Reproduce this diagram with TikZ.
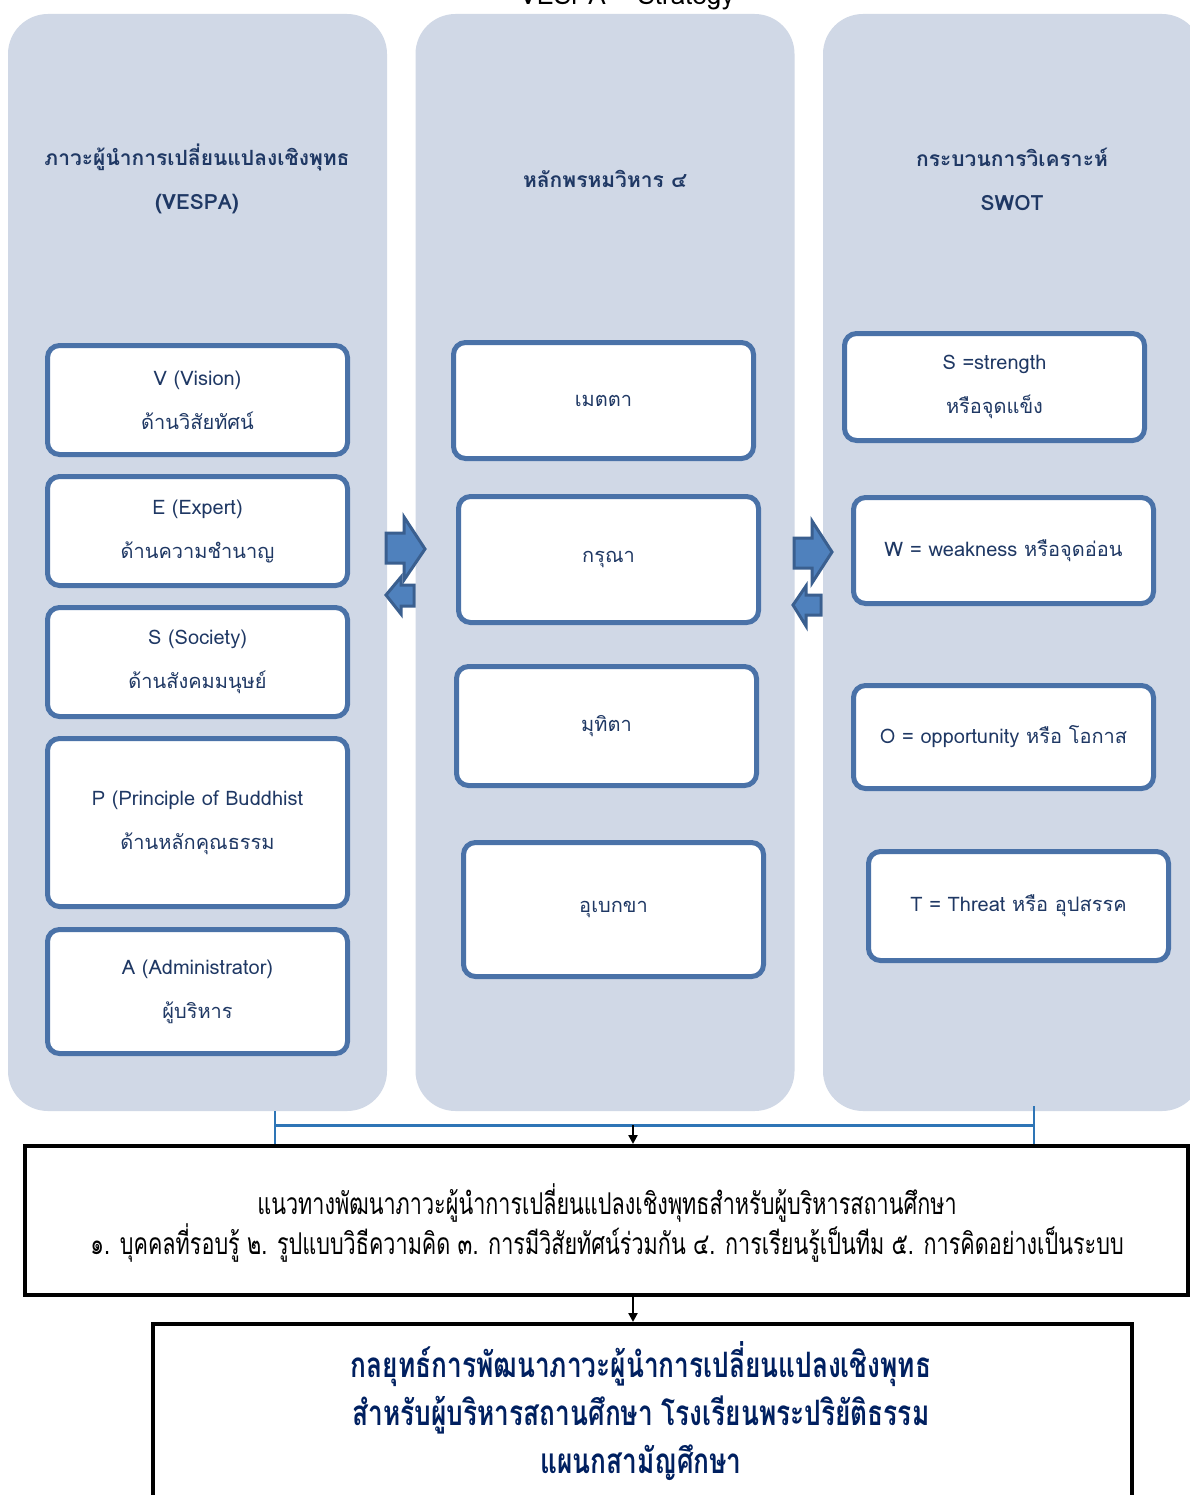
\documentclass[tikz,border=0pt]{standalone}
\usepackage{fontspec}
\setmainfont[Script=Thai]{Loma}
\newfontfamily\condfont[Script=Thai,FakeStretch=0.72]{Loma}
\newfontfamily\condbfont[Script=Thai,FakeStretch=0.75]{Loma}
\usetikzlibrary{arrows.meta}
\definecolor{panelbg}{RGB}{208,216,230}
\definecolor{itemline}{RGB}{74,114,168}
\definecolor{navytext}{RGB}{31,56,100}
\definecolor{arrowfill}{RGB}{79,129,189}
\definecolor{arrowline}{RGB}{58,95,143}
\definecolor{linkblue}{RGB}{46,117,182}
\definecolor{darknavy}{RGB}{0,32,96}
\tikzset{
  panel/.style={fill=panelbg, draw=none, rounded corners=40, minimum width=379, minimum height=1097, inner sep=0},
  head/.style={text=navytext, font=\fontsize{21}{44}\selectfont\bfseries, align=center},
  item/.style={draw=itemline, line width=5, fill=white, rounded corners=12, minimum width=300,
               text=navytext, font=\fontsize{20}{44}\selectfont, align=center, inner sep=0},
  blockarrow/.style={fill=arrowfill, draw=arrowline, line width=3, line join=miter},
  link/.style={draw=linkblue, line width=2},
  flow/.style={draw=black, line width=2.5, -{Triangle[length=9pt,width=9pt]}},
  outbox/.style={draw=black, line width=4, fill=white, inner sep=0}
}
\begin{document}
\begin{tikzpicture}[x=1pt,y=-1pt]
\useasboundingbox (0,0) rectangle (1190,1495);
\fill[white] (0,0) rectangle (1190,1495);

% title (cut off at the top edge, as in the reference)
\node[anchor=base, font=\fontsize{26}{30}\selectfont, text=black] (title) at (627,5) {VESPA – Strategy};

% panels
\node[panel] (lp) at (197.5,562.5) {};
\node[panel] (mp) at (605,562.5) {};
\node[panel] (rp) at (1012.5,562.5) {};

% headers
\node[head] (lh) at (197,179) {ภาวะผู้นำการเปลี่ยนแปลงเชิงพุทธ\\(VESPA)};
\node[head] (mh) at (605,179) {หลักพรหมวิหาร ๔};
\node[head] (rh) at (1012,179) {กระบวนการวิเคราะห์\\SWOT};

% left items
\node[item, minimum height=109] (v) at (197.5,400) {V (Vision)\\ด้านวิสัยทัศน์};
\node[item, minimum height=109] (e) at (197.5,531) {E (Expert)\\ด้านความชำนาญ};
\node[item, minimum height=109] (s) at (197.5,662) {S (Society)\\ด้านสังคมมนุษย์};
\node[item, minimum height=168] (p) at (197.5,822.5) {P (Principle of Buddhist\\ด้านหลักคุณธรรม};
\node[item, minimum height=124] (a) at (197.5,991.5) {A (Administrator)\\ผู้บริหาร};

% middle items
\node[item, minimum height=116] (m1) at (603.5,400.5) {เมตตา};
\node[item, minimum height=126] (m2) at (608.5,559.5) {กรุณา};
\node[item, minimum height=119] (m3) at (606.5,726) {มุทิตา};
\node[item, minimum height=134] (m4) at (613.5,909.5) {อุเบกขา};

% right items
\node[item, minimum height=107] (r1) at (994.5,387) {S =strength\\หรือจุดแข็ง};
\node[item, minimum height=106] (r2) at (1003.5,550.5) {W = weakness หรือจุดอ่อน};
\node[item, minimum height=103] (r3) at (1003.5,737) {O = opportunity หรือ โอกาส};
\node[item, minimum height=109] (r4) at (1018.5,906) {T = Threat หรือ อุปสรรค};

% block arrows between panels
\draw[blockarrow] (386,533) -- (404,533) -- (404,517) -- (425,549) -- (404,580) -- (404,563) -- (386,563) -- cycle;
\draw[blockarrow] (414,585) -- (401,585) -- (401,577) -- (386,595) -- (401,614) -- (401,606) -- (414,606) -- cycle;
\draw[blockarrow] (794,538) -- (812,538) -- (812,521) -- (832,552) -- (812,583) -- (812,568) -- (794,568) -- cycle;
\draw[blockarrow] (821,595) -- (806,595) -- (806,586) -- (793,605) -- (806,626) -- (806,615) -- (821,615) -- cycle;

% bottom boxes
\node[outbox, minimum width=1163, minimum height=149] (b1) at (606.5,1220.5) {};
\node[text=black, font=\condfont\fontsize{30}{40}\selectfont, align=center] (b1t) at (607,1223)
  {แนวทางพัฒนาภาวะผู้นำการเปลี่ยนแปลงเชิงพุทธสำหรับผู้บริหารสถานศึกษา\\
   ๑. บุคคลที่รอบรู้ ๒. รูปแบบวิธีความคิด ๓. การมีวิสัยทัศน์ร่วมกัน ๔. การเรียนรู้เป็นทีม ๕. การคิดอย่างเป็นระบบ};
\node[outbox, minimum width=979, minimum height=174] (b2) at (642.5,1411) {};
\node[text=darknavy, font=\condbfont\bfseries\fontsize{35}{48}\selectfont, align=center] (b2t) at (641,1411)
  {กลยุทธ์การพัฒนาภาวะผู้นำการเปลี่ยนแปลงเชิงพุทธ\\
   สำหรับผู้บริหารสถานศึกษา โรงเรียนพระปริยัติธรรม\\
   แผนกสามัญศึกษา};

% connectors
\coordinate (lc) at (275,1111);
\coordinate (rc) at (1034,1106);
\coordinate (lj) at (275,1125);
\coordinate (rj) at (1034,1125);
\coordinate (mj) at (633,1125);
\draw[link] (lc) -- (lc |- b1.north);
\draw[link] (rc) -- (rc |- b1.north);
\draw[draw=linkblue, line width=3] (lj) -- (rj);
\draw[flow] (mj) -- (mj |- b1.north);
\draw[flow] (mj |- b1.south) -- (mj |- b2.north);
\end{tikzpicture}
\end{document}
